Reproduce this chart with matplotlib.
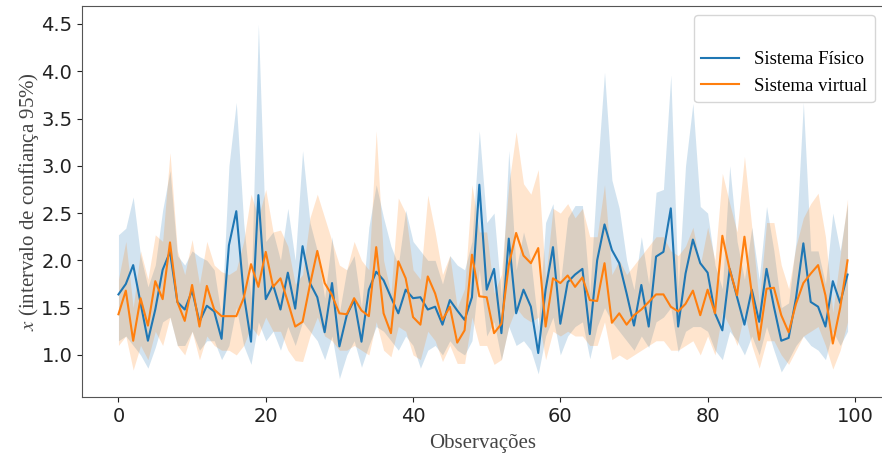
import matplotlib
matplotlib.use("Agg")
import matplotlib.pyplot as plt
import numpy as np

obs = list(range(100))

fisico_mean = [1.64, 1.75, 1.95, 1.55, 1.15, 1.48, 1.90, 2.09, 1.56, 1.48,
               1.68, 1.35, 1.52, 1.46, 1.17, 2.16, 2.52, 1.65, 1.14, 2.69,
               1.59, 1.74, 1.48, 1.87, 1.49, 2.15, 1.76, 1.61, 1.24, 1.76,
               1.09, 1.42, 1.58, 1.14, 1.69, 1.88, 1.79, 1.61, 1.44, 1.69,
               1.60, 1.61, 1.48, 1.51, 1.32, 1.58, 1.47, 1.37, 1.61, 2.80,
               1.69, 1.91, 1.23, 2.23, 1.44, 1.69, 1.51, 1.02, 1.69, 2.14,
               1.33, 1.77, 1.85, 1.91, 1.22, 2.00, 2.38, 2.11, 1.97, 1.65,
               1.31, 1.74, 1.30, 2.04, 2.09, 2.55, 1.30, 1.86, 2.22, 1.97,
               1.87, 1.44, 1.26, 1.91, 1.61, 1.32, 1.69, 1.35, 1.91, 1.51,
               1.15, 1.18, 1.60, 2.18, 1.56, 1.51, 1.30, 1.78, 1.55, 1.85]
fisico_lo = [1.15, 1.20, 1.10, 1.00, 0.86, 1.08, 1.35, 1.40, 1.10, 1.10,
             1.25, 1.05, 1.15, 1.15, 0.95, 1.10, 1.50, 1.10, 0.90, 1.35,
             1.15, 1.25, 1.05, 1.30, 1.10, 1.35, 1.25, 1.15, 0.95, 1.20,
             0.75, 1.00, 1.15, 0.87, 1.10, 1.30, 1.25, 1.15, 1.05, 1.20,
             1.10, 0.86, 1.05, 1.10, 1.00, 1.15, 1.05, 1.00, 1.15, 1.90,
             1.20, 1.35, 0.95, 1.30, 1.10, 1.15, 1.05, 0.80, 1.20, 1.40,
             1.00, 1.20, 1.30, 1.35, 0.96, 1.30, 1.50, 1.35, 1.25, 1.15,
             1.05, 1.20, 1.08, 1.35, 1.40, 1.50, 1.03, 1.25, 1.30, 1.30,
             1.25, 1.05, 0.95, 1.25, 1.15, 1.00, 1.20, 1.00, 1.30, 1.05,
             0.82, 0.95, 1.10, 1.20, 1.10, 1.05, 0.95, 1.25, 1.10, 1.25]
fisico_hi = [2.27, 2.34, 2.67, 2.05, 1.72, 1.95, 2.53, 2.95, 2.05, 1.95,
             2.10, 2.04, 2.00, 1.90, 1.40, 3.00, 3.67, 2.40, 1.60, 4.50,
             2.20, 2.30, 2.00, 2.55, 2.00, 3.16, 2.40, 2.10, 1.60, 2.25,
             1.45, 1.90, 2.05, 1.50, 2.35, 2.80, 2.45, 2.15, 1.95, 2.53,
             2.20, 2.10, 2.00, 2.00, 1.75, 2.05, 1.95, 1.90, 2.20, 3.37,
             2.40, 2.50, 1.60, 3.16, 1.90, 2.30, 2.00, 1.30, 2.40, 2.60,
             1.75, 2.45, 2.58, 2.58, 1.65, 2.90, 3.99, 2.85, 2.55, 2.00,
             1.69, 2.25, 1.75, 2.72, 2.75, 3.96, 1.70, 3.00, 3.66, 2.57,
             2.50, 1.95, 1.70, 3.00, 2.20, 1.80, 2.35, 1.80, 2.57, 2.10,
             1.50, 1.55, 2.20, 3.67, 2.10, 2.10, 1.75, 2.50, 2.10, 2.60]

virtual_mean = [1.43, 1.68, 1.15, 1.60, 1.31, 1.78, 1.59, 2.19, 1.56, 1.36,
                1.74, 1.30, 1.73, 1.48, 1.41, 1.41, 1.41, 1.60, 1.96, 1.72,
                2.09, 1.72, 1.81, 1.56, 1.30, 1.35, 1.74, 2.10, 1.76, 1.63,
                1.44, 1.43, 1.60, 1.47, 1.41, 2.14, 1.44, 1.23, 1.99, 1.81,
                1.40, 1.32, 1.83, 1.65, 1.37, 1.51, 1.13, 1.26, 2.06, 1.62,
                1.61, 1.23, 1.33, 1.95, 2.29, 2.05, 1.97, 2.13, 1.30, 1.81,
                1.76, 1.84, 1.72, 1.82, 1.58, 1.57, 1.97, 1.34, 1.44, 1.32,
                1.42, 1.48, 1.56, 1.64, 1.64, 1.51, 1.46, 1.54, 1.68, 1.42,
                1.69, 1.44, 2.26, 1.90, 1.63, 2.25, 1.65, 1.16, 1.70, 1.71,
                1.42, 1.24, 1.54, 1.76, 1.86, 1.95, 1.63, 1.12, 1.50, 2.00]
virtual_lo = [1.10, 1.20, 0.84, 1.10, 0.95, 1.25, 1.10, 1.40, 1.10, 1.00,
              1.25, 0.95, 1.20, 1.10, 1.05, 1.05, 1.00, 1.10, 1.30, 1.20,
              1.40, 1.25, 1.25, 1.05, 0.94, 0.93, 1.20, 1.40, 1.20, 1.15,
              1.05, 1.05, 1.10, 1.05, 1.00, 1.35, 1.05, 0.98, 1.30, 1.25,
              1.00, 0.95, 1.25, 1.15, 0.93, 1.10, 0.91, 0.91, 1.40, 1.10,
              1.10, 0.90, 0.95, 1.30, 1.50, 1.40, 1.35, 1.40, 0.95, 1.25,
              1.20, 1.25, 1.20, 1.20, 1.10, 1.10, 1.35, 0.95, 1.00, 0.95,
              1.00, 1.05, 1.10, 1.15, 1.15, 1.05, 1.05, 1.10, 1.15, 1.00,
              1.20, 1.00, 1.45, 1.30, 1.10, 1.45, 1.10, 0.86, 1.15, 1.15,
              1.00, 0.90, 1.05, 1.20, 1.25, 1.30, 1.10, 0.85, 1.05, 1.35]
virtual_hi = [1.80, 2.20, 1.50, 2.10, 1.80, 2.27, 2.20, 3.14, 2.10, 1.85,
              2.22, 1.75, 2.20, 1.95, 1.88, 1.85, 1.90, 2.20, 2.70, 2.45,
              2.75, 2.30, 2.32, 2.15, 1.75, 1.85, 2.45, 2.70, 2.45, 2.20,
              1.95, 1.90, 2.20, 2.00, 1.90, 3.37, 2.00, 1.65, 2.66, 2.50,
              1.90, 1.80, 2.69, 2.30, 1.85, 2.05, 1.50, 1.70, 2.80, 2.30,
              2.30, 1.65, 1.85, 2.80, 3.36, 2.81, 2.70, 2.96, 1.80, 2.55,
              2.50, 2.60, 2.45, 2.55, 2.25, 2.25, 2.80, 1.85, 2.00, 1.85,
              1.95, 2.05, 2.15, 2.25, 2.25, 2.10, 2.05, 2.15, 2.35, 1.95,
              2.35, 2.00, 2.92, 2.60, 2.30, 3.10, 2.35, 1.55, 2.40, 2.40,
              1.95, 1.70, 2.15, 2.45, 2.60, 2.71, 2.25, 1.45, 2.05, 2.65]

labels = ["Sistema Físico", "Sistema virtual"]
colors = ["#1f77b4", "#ff7f0e"]

plt.rcParams["mathtext.fontset"] = "stix"

fig = plt.figure(figsize=(8.82, 4.61), dpi=100)
ax = fig.add_axes([82 / 882, 64 / 461, 802 / 882, 391 / 461])

series = [(fisico_mean, fisico_lo, fisico_hi), (virtual_mean, virtual_lo, virtual_hi)]
for (m, lo, hi), lab, c in zip(series, labels, colors):
    ax.fill_between(obs, lo, hi, color=c, alpha=0.2, linewidth=0)
    ax.plot(obs, m, color=c, linewidth=1.5, label=lab)

ax.set_xlim(-4.95, 103.95)
ax.set_ylim(0.555, 4.69)
ax.set_xticks([0, 20, 40, 60, 80, 100])
ax.set_yticks([1.0, 1.5, 2.0, 2.5, 3.0, 3.5, 4.0, 4.5])
ax.tick_params(labelsize=14, colors="#222222")

serif = ["Liberation Serif", "DejaVu Serif"]
ax.set_xlabel("Observações", family=serif, fontsize=15, color="#444444", labelpad=6)
ax.set_ylabel("$x$ (intervalo de confiança 95%)", family=serif, fontsize=15,
              color="#444444", labelpad=0)

leg = ax.legend(loc="upper right", title=" ", prop={"family": serif, "size": 13.5},
                title_fontsize=13.5, frameon=True)
for spine in ax.spines.values():
    spine.set_color("#555555")

fig.savefig("out.png", dpi=100)
